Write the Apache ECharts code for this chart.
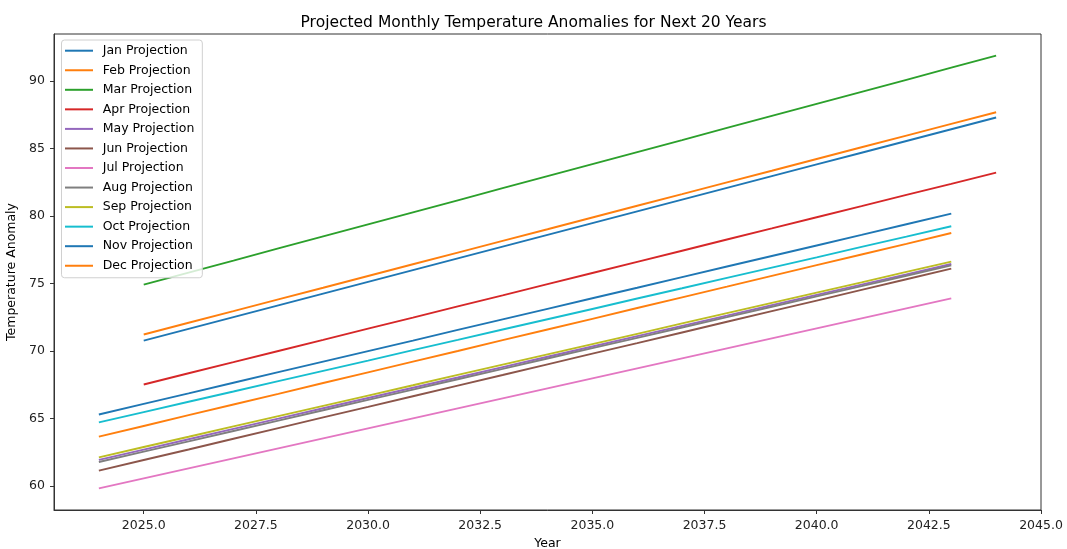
<!DOCTYPE html>
<html>
<head>
<meta charset="utf-8">
<title>Projected Monthly Temperature Anomalies</title>
<script src="https://cdn.jsdelivr.net/npm/echarts@6/dist/echarts.min.js"></script>
<style>
  html, body { margin: 0; padding: 0; background: #fff; }
  #chart { width: 1067px; height: 549px; }
</style>
</head>
<body>
<div id="chart"></div>
<script>
// Projection years: most months run 2024-2043, four run 2025-2044
const yearsEarly = [2024, 2025, 2026, 2027, 2028, 2029, 2030, 2031, 2032, 2033,
                    2034, 2035, 2036, 2037, 2038, 2039, 2040, 2041, 2042, 2043];
const yearsLate  = [2025, 2026, 2027, 2028, 2029, 2030, 2031, 2032, 2033, 2034,
                    2035, 2036, 2037, 2038, 2039, 2040, 2041, 2042, 2043, 2044];

const janValues = [65.31, 66.09, 66.87, 67.66, 68.44, 69.22, 70.00, 70.78, 71.57, 72.35,
                   73.13, 73.91, 74.69, 75.48, 76.26, 77.04, 77.82, 78.60, 79.39, 80.17];
const febValues = [63.67, 64.46, 65.26, 66.05, 66.84, 67.64, 68.43, 69.22, 70.01, 70.81,
                   71.60, 72.39, 73.19, 73.98, 74.77, 75.57, 76.36, 77.15, 77.94, 78.74];
const marValues = [74.92, 75.81, 76.70, 77.60, 78.49, 79.38, 80.27, 81.16, 82.06, 82.95,
                   83.84, 84.73, 85.62, 86.52, 87.41, 88.30, 89.19, 90.08, 90.98, 91.87];
const aprValues = [67.53, 68.36, 69.18, 70.01, 70.83, 71.66, 72.48, 73.31, 74.13, 74.96,
                   75.78, 76.61, 77.43, 78.26, 79.08, 79.91, 80.73, 81.56, 82.38, 83.21];
const mayValues = [61.95, 62.71, 63.48, 64.24, 65.00, 65.77, 66.53, 67.29, 68.05, 68.82,
                   69.58, 70.34, 71.11, 71.87, 72.63, 73.40, 74.16, 74.92, 75.68, 76.45];
const junValues = [61.15, 61.94, 62.72, 63.51, 64.30, 65.09, 65.87, 66.66, 67.45, 68.23,
                   69.02, 69.81, 70.59, 71.38, 72.17, 72.96, 73.74, 74.53, 75.32, 76.10];
const julValues = [59.84, 60.58, 61.32, 62.06, 62.80, 63.54, 64.28, 65.02, 65.76, 66.50,
                   67.24, 67.98, 68.72, 69.46, 70.20, 70.94, 71.68, 72.42, 73.16, 73.90];
const augValues = [61.79, 62.56, 63.32, 64.09, 64.85, 65.62, 66.39, 67.15, 67.92, 68.68,
                   69.45, 70.22, 70.98, 71.75, 72.51, 73.28, 74.05, 74.81, 75.58, 76.34];
const sepValues = [62.14, 62.90, 63.66, 64.43, 65.19, 65.95, 66.71, 67.47, 68.24, 69.00,
                   69.76, 70.52, 71.28, 72.05, 72.81, 73.57, 74.33, 75.09, 75.86, 76.62];
const octValues = [64.72, 65.48, 66.25, 67.01, 67.78, 68.54, 69.30, 70.07, 70.83, 71.60,
                   72.36, 73.12, 73.89, 74.65, 75.42, 76.18, 76.94, 77.71, 78.47, 79.24];
const novValues = [70.78, 71.65, 72.52, 73.39, 74.26, 75.13, 75.99, 76.86, 77.73, 78.60,
                   79.47, 80.34, 81.21, 82.08, 82.95, 83.82, 84.68, 85.55, 86.42, 87.29];
const decValues = [71.23, 72.10, 72.96, 73.83, 74.69, 75.56, 76.43, 77.29, 78.16, 79.02,
                   79.89, 80.76, 81.62, 82.49, 83.35, 84.22, 85.09, 85.95, 86.82, 87.68];

const xTickValues = [2025, 2027.5, 2030, 2032.5, 2035, 2037.5, 2040, 2042.5, 2045];
const yTickValues = [60, 65, 70, 75, 80, 85, 90];

const seriesNames = ['Jan Projection', 'Feb Projection', 'Mar Projection', 'Apr Projection',
                     'May Projection', 'Jun Projection', 'Jul Projection', 'Aug Projection',
                     'Sep Projection', 'Oct Projection', 'Nov Projection', 'Dec Projection'];
const seriesYears = [yearsEarly, yearsEarly, yearsLate, yearsLate,
                     yearsEarly, yearsEarly, yearsEarly, yearsEarly,
                     yearsEarly, yearsEarly, yearsLate, yearsLate];
const seriesValues = [janValues, febValues, marValues, aprValues, mayValues, junValues,
                      julValues, augValues, sepValues, octValues, novValues, decValues];

// tab10 cycle
const palette = ['#1f77b4', '#ff7f0e', '#2ca02c', '#d62728', '#9467bd', '#8c564b',
                 '#e377c2', '#7f7f7f', '#bcbd22', '#17becf', '#1f77b4', '#ff7f0e'];

const FONT = '"DejaVu Sans", sans-serif';

const series = seriesNames.map((name, i) => ({
  name: name,
  type: 'line',
  data: seriesYears[i].map((yr, k) => [yr, seriesValues[i][k]]),
  showSymbol: false,
  symbol: 'none',
  lineStyle: { width: 1.9, color: palette[i] },
  itemStyle: { color: palette[i] },
  emphasis: { disabled: true },
  animation: false
}));

const chart = echarts.init(document.getElementById('chart'), null, { renderer: 'canvas' });
chart.setOption({
  animation: false,
  backgroundColor: '#ffffff',
  color: palette,
  title: {
    text: 'Projected Monthly Temperature Anomalies for Next 20 Years',
    left: 'center',
    top: 10,
    textStyle: { fontFamily: FONT, fontSize: 15.5, fontWeight: 'normal', color: '#000' }
  },
  grid: {
    left: 54, right: 26, top: 34, bottom: 39,
    outerBoundsMode: 'none',
    containLabel: false,
    show: true, borderColor: '#333', borderWidth: 1, backgroundColor: 'transparent'
  },
  legend: {
    orient: 'vertical',
    left: 61.5,
    top: 40,
    padding: [3.7, 8, 5, 3.5],
    itemWidth: 28,
    itemHeight: 2,
    itemGap: 5.55,
    icon: 'rect',
    backgroundColor: 'rgba(255,255,255,0.8)',
    borderColor: '#d0d0d0',
    borderWidth: 1,
    borderRadius: 3,
    textStyle: { fontFamily: FONT, fontSize: 12.5, color: '#000', lineHeight: 14, padding: [0, 0, 0, 4.7] },
    data: seriesNames
  },
  xAxis: {
    type: 'value',
    min: 2023,
    max: 2045,
    name: 'Year',
    nameLocation: 'middle',
    nameGap: 27,
    nameTextStyle: { fontFamily: FONT, fontSize: 12.5, color: '#000' },
    axisLine: { show: true, onZero: false, lineStyle: { color: '#333', width: 1 } },
    axisTick: { show: true, length: 4, customValues: xTickValues, lineStyle: { color: '#333' } },
    axisLabel: {
      customValues: xTickValues,
      margin: 9,
      fontFamily: FONT, fontSize: 12.5, color: '#222',
      formatter: v => Number(v).toFixed(1)
    },
    splitLine: { show: false }
  },
  yAxis: {
    type: 'value',
    min: 58.24,
    max: 93.47,
    name: 'Temperature Anomaly',
    nameLocation: 'middle',
    nameGap: 29,
    nameTextStyle: { fontFamily: FONT, fontSize: 12.5, color: '#000' },
    axisLine: { show: true, onZero: false, lineStyle: { color: '#333', width: 1 } },
    axisTick: { show: true, length: 4, customValues: yTickValues, lineStyle: { color: '#333' } },
    axisLabel: {
      customValues: yTickValues,
      margin: 9,
      fontFamily: FONT, fontSize: 12.5, color: '#222',
      formatter: v => String(Math.round(v))
    },
    splitLine: { show: false }
  },
  series: series
});
</script>
</body>
</html>
